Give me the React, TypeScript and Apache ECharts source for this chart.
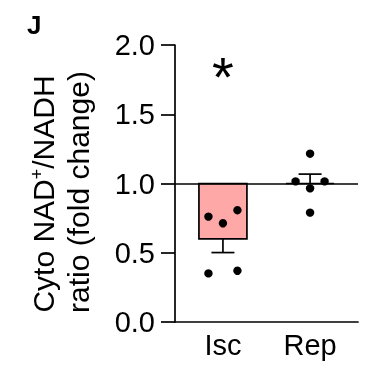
import React, { useEffect, useRef } from "react";
import * as echarts from "echarts";

const categories = ["Isc", "Rep"];
const iscValues = [0.761, 0.713, 0.807, 0.351, 0.37];
const repValues = [1.215, 1.015, 1.015, 0.965, 0.79];
const iscSlots = [-1, 0, 1, -1, 1];
const repSlots = [0, -1, 1, 0, 0];
const significance = ["*", ""];
const sigLevel = [1.77, 0];
const yMin = 0;
const yMax = 2;
const yInterval = 0.5;
const baseline = 1;
const titleLine1 = "{a|Cyto NAD}{s|+}{a|/NADH}";
const titleLine2 = "ratio (fold change)";

const FONT = "'Liberation Sans', Arial, sans-serif";

function mean(a: number[]) {
  return a.reduce((s, v) => s + v, 0) / a.length;
}
function sem(a: number[]) {
  const m = mean(a);
  const v = a.reduce((s, x) => s + (x - m) * (x - m), 0) / (a.length - 1);
  return Math.sqrt(v) / Math.sqrt(a.length);
}

export default function App() {
  const ref = useRef<HTMLDivElement>(null);
  useEffect(() => {
    if (!ref.current) return;
    const chart = echarts.init(ref.current, null, { renderer: "svg" });
    const groups = [iscValues, repValues];
    const slots = [iscSlots, repSlots];
    const barData = groups.map((g, i) => [i + 1, mean(g), sem(g)]);
    const dotData: number[][] = [];
    groups.forEach((g, i) => g.forEach((v, j) => dotData.push([i + 1, v, slots[i][j]])));
    const sigData = significance.map((s, i) => [i + 1, sigLevel[i]]);

    chart.setOption({
      animation: false,
      grid: { left: 175, right: 17, top: 45, bottom: 46 },
      graphic: [
        {
          type: "text",
          left: 27,
          top: 12,
          style: { text: "J", font: `bold 26px ${FONT}`, fill: "#000" },
        },
        {
          type: "text",
          x: 43,
          y: 194,
          rotation: Math.PI / 2,
          style: {
            text: titleLine1,
            font: `30px ${FONT}`,
            fill: "#000",
            align: "center",
            verticalAlign: "middle",
            rich: {
              a: { font: `30px ${FONT}`, fill: "#000" },
              s: { font: `18px ${FONT}`, fill: "#000", verticalAlign: "top" },
            },
          },
        },
        {
          type: "text",
          x: 78,
          y: 192,
          rotation: Math.PI / 2,
          style: {
            text: titleLine2,
            font: `30px ${FONT}`,
            fill: "#000",
            align: "center",
            verticalAlign: "middle",
          },
        },
      ],
      xAxis: {
        type: "value",
        min: 0.45,
        max: 2.55,
        axisLine: { onZero: false, lineStyle: { color: "#000", width: 1.7 } },
        axisTick: { show: false },
        axisLabel: {
          color: "#000",
          fontSize: 29,
          fontFamily: FONT,
          margin: 8,
          customValues: categories.map((c, i) => i + 1),
          formatter: (v: number) => categories[Math.round(v) - 1] ?? "",
        },
        splitLine: { show: false },
      },
      yAxis: {
        type: "value",
        min: yMin,
        max: yMax,
        interval: yInterval,
        axisLine: { show: true, lineStyle: { color: "#000", width: 1.7 } },
        axisTick: { show: true, length: 14, lineStyle: { color: "#000", width: 1.7 } },
        axisLabel: {
          color: "#000",
          fontSize: 29,
          fontFamily: FONT,
          margin: 20,
          formatter: (v: number) => v.toFixed(1),
        },
        splitLine: { show: false },
      },
      series: [
        {
          type: "custom",
          data: barData,
          z: 2,
          renderItem: (params: any, api: any) => {
            const x = api.value(0);
            const m = api.value(1);
            const s = api.value(2);
            const b = api.coord([x, baseline]);
            const t = api.coord([x, m]);
            const dir = m < baseline - 1e-6 ? -1 : 1;
            const e = api.coord([x, m + dir * s]);
            const bw = 48;
            const cw = 23;
            return {
              type: "group",
              children: [
                {
                  type: "rect",
                  shape: { x: b[0] - bw / 2, y: Math.min(b[1], t[1]), width: bw, height: Math.abs(b[1] - t[1]) },
                  style: { fill: "#FFA8A8", stroke: "#000", lineWidth: 1.7 },
                },
                {
                  type: "line",
                  shape: { x1: t[0], y1: t[1], x2: e[0], y2: e[1] },
                  style: { stroke: "#000", lineWidth: 1.7 },
                },
                {
                  type: "line",
                  shape: { x1: e[0] - cw / 2, y1: e[1], x2: e[0] + cw / 2, y2: e[1] },
                  style: { stroke: "#000", lineWidth: 1.7 },
                },
              ],
            };
          },
          markLine: {
            silent: true,
            symbol: "none",
            label: { show: false },
            lineStyle: { color: "#000", width: 1.7, type: "solid" },
            data: [{ yAxis: baseline }],
          },
        },
        {
          type: "custom",
          data: dotData,
          z: 3,
          renderItem: (params: any, api: any) => {
            const p = api.coord([api.value(0), api.value(1)]);
            const slot = api.value(2);
            return {
              type: "circle",
              shape: { cx: p[0] + slot * 14.5, cy: p[1], r: 4.2 },
              style: { fill: "#000" },
            };
          },
        },
        {
          type: "custom",
          data: sigData,
          z: 3,
          renderItem: (params: any, api: any) => {
            const p = api.coord([api.value(0), api.value(1)]);
            return {
              type: "text",
              x: p[0],
              y: p[1],
              style: {
                text: significance[params.dataIndex],
                font: `56px ${FONT}`,
                fill: "#000",
                align: "center",
                verticalAlign: "middle",
              },
            };
          },
        },
      ],
    });
    return () => chart.dispose();
  }, []);
  return <div ref={ref} style={{ position: "fixed", left: 0, top: 0, width: 375, height: 368 }} />;
}
